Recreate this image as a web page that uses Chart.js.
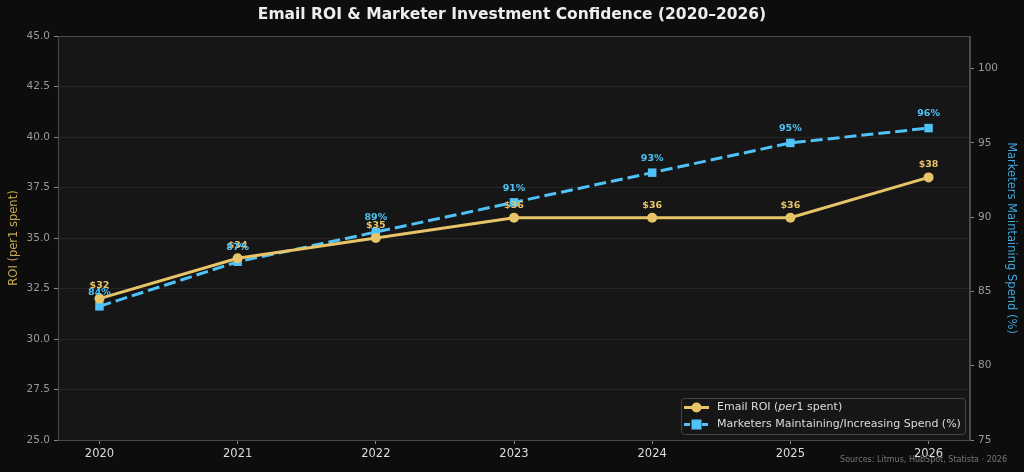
<!DOCTYPE html>
<html><head><meta charset="utf-8">
<script src="https://cdn.jsdelivr.net/npm/chart.js@4"></script>
<style>html,body{margin:0;padding:0;background:#0d0d0d;}#wrap{width:1024px;height:472px;position:relative;}</style>
</head><body><div id="wrap"><canvas id="c" width="1024" height="472"></canvas></div>
<script>
const years = [2020, 2021, 2022, 2023, 2024, 2025, 2026];
const roiValues = [32, 34, 35, 36, 36, 36, 38];
const spendValues = [84, 87, 89, 91, 93, 95, 96];
const roiTicks = [25, 27.5, 30, 32.5, 35, 37.5, 40, 42.5, 45];
const spendTicks = [75, 80, 85, 90, 95, 100];

const GOLD = '#e8c468', BLUE = '#4fc3f7';
const FONT = "'DejaVu Sans', sans-serif";

const bgPlugin = {
  id: 'bg',
  beforeDraw(chart) {
    const {ctx, chartArea: a} = chart;
    ctx.save();
    ctx.fillStyle = '#0d0d0d';
    ctx.fillRect(0, 0, chart.width, chart.height);
    ctx.fillStyle = '#161616';
    ctx.fillRect(a.left, a.top, a.right - a.left, a.bottom - a.top);
    ctx.restore();
  },
  afterDraw(chart) {
    const {ctx, chartArea: a} = chart;
    ctx.save();
    ctx.strokeStyle = '#4a4a4a';
    ctx.lineWidth = 1;
    ctx.strokeRect(a.left + 0.5, a.top + 0.5, a.right - a.left - 1, a.bottom - a.top);
    // title
    ctx.fillStyle = '#eeeeee';
    ctx.font = "bold 15.5px " + FONT;
    ctx.textAlign = 'center';
    ctx.textBaseline = 'middle';
    ctx.fillText('Email ROI & Marketer Investment Confidence (2020\u20132026)', 512, 15);
    // sources
    ctx.fillStyle = '#777777';
    ctx.font = "8px " + FONT;
    ctx.textAlign = 'right';
    ctx.fillText('Sources: Litmus, HubSpot, Statista \u00b7 2026', 1007, 460);
    // legend
    const lx = 681, ly = 398, lw = 284, lh = 36;
    ctx.fillStyle = 'rgba(22,22,22,0.9)';
    ctx.strokeStyle = '#444';
    roundRect(ctx, lx + 0.5, ly + 0.5, lw, lh, 3);
    ctx.fill(); ctx.stroke();
    const items = [
      {label: ['Email ROI (', 'per', '1 spent)'], color: GOLD, dash: [], pt: 'circle'},
      {label: ['Marketers Maintaining/Increasing Spend (%)'], color: BLUE, dash: [6, 3], pt: 'square'}
    ];
    items.forEach((it, i) => {
      const y = ly + 9.5 + i * 17;
      ctx.strokeStyle = it.color; ctx.lineWidth = 3; ctx.setLineDash(it.dash);
      ctx.beginPath(); ctx.moveTo(lx + 3, y); ctx.lineTo(lx + 28, y); ctx.stroke();
      ctx.setLineDash([]);
      ctx.fillStyle = it.color;
      if (it.pt === 'circle') { ctx.beginPath(); ctx.arc(lx + 15.5, y, 5, 0, Math.PI * 2); ctx.fill(); }
      else ctx.fillRect(lx + 10.5, y - 5, 10, 10);
      ctx.fillStyle = '#dddddd';
      ctx.textAlign = 'left';
      let x = lx + 36;
      it.label.forEach((part, j) => {
        ctx.font = (j === 1 ? 'italic ' : '') + '11px ' + FONT;
        ctx.fillText(part, x, y);
        x += ctx.measureText(part).width;
      });
    });
    ctx.restore();
  },
  afterDatasetsDraw(chart) {
    const {ctx} = chart;
    ctx.save();
    ctx.font = 'bold 9.5px ' + FONT;
    ctx.textAlign = 'center';
    ctx.textBaseline = 'bottom';
    const m0 = chart.getDatasetMeta(0), m1 = chart.getDatasetMeta(1);
    m0.data.forEach((p, i) => { ctx.fillStyle = GOLD; ctx.fillText('$' + roiValues[i], p.x, p.y - 8); });
    m1.data.forEach((p, i) => { ctx.fillStyle = BLUE; ctx.fillText(spendValues[i] + '%', p.x, p.y - 9.5); });
    ctx.restore();
  }
};
function roundRect(ctx, x, y, w, h, r) {
  ctx.beginPath();
  ctx.moveTo(x + r, y); ctx.lineTo(x + w - r, y); ctx.quadraticCurveTo(x + w, y, x + w, y + r);
  ctx.lineTo(x + w, y + h - r); ctx.quadraticCurveTo(x + w, y + h, x + w - r, y + h);
  ctx.lineTo(x + r, y + h); ctx.quadraticCurveTo(x, y + h, x, y + h - r);
  ctx.lineTo(x, y + r); ctx.quadraticCurveTo(x, y, x + r, y); ctx.closePath();
}

new Chart(document.getElementById('c'), {
  type: 'line',
  data: {
    datasets: [
      {label: 'Email ROI (per1 spent)', data: years.map((y, i) => ({x: y, y: roiValues[i]})),
       borderColor: GOLD, backgroundColor: GOLD, borderWidth: 3, pointRadius: 5, pointStyle: 'circle',
       pointBorderWidth: 0, yAxisID: 'y', tension: 0},
      {label: 'Marketers Maintaining/Increasing Spend (%)', data: years.map((y, i) => ({x: y, y: spendValues[i]})),
       borderColor: BLUE, backgroundColor: BLUE, borderWidth: 3, borderDash: [12, 5], pointRadius: 6,
       pointStyle: 'rect', pointBorderWidth: 0, yAxisID: 'y1', tension: 0}
    ]
  },
  options: {
    responsive: false, animation: false, devicePixelRatio: 1,
    layout: {padding: {top: 36, left: 0, right: 0, bottom: 0}},
    plugins: {legend: {display: false}, title: {display: false}, tooltip: {enabled: false}},
    scales: {
      x: {
        type: 'linear', min: 2019.7, max: 2026.3,
        afterBuildTicks: s => { s.ticks = years.map(v => ({value: v})); },
        afterFit: s => { s.height = 32; },
        ticks: {color: '#dddddd', font: {family: FONT, size: 11.5}, padding: 3, callback: v => String(v)},
        grid: {drawOnChartArea: false, tickLength: 4, tickColor: '#888'},
        border: {color: '#4a4a4a'}
      },
      y: {
        position: 'left', min: 25, max: 45,
        afterBuildTicks: s => { s.ticks = roiTicks.map(v => ({value: v})); },
        afterFit: s => { s.width = 58; },
        ticks: {color: '#999999', font: {family: FONT, size: 10.5}, padding: 4, callback: v => v.toFixed(1)},
        grid: {color: '#262626', tickLength: 4, tickColor: '#888'},
        border: {color: '#4a4a4a'},
        title: {display: true, text: 'ROI (per1 spent)', color: '#c9a94f', font: {family: FONT, size: 11.5}, padding: {top: 7, bottom: 0}}
      },
      y1: {
        position: 'right', min: 75, max: 102.2,
        afterBuildTicks: s => { s.ticks = spendTicks.map(v => ({value: v})); },
        afterFit: s => { s.width = 54; },
        ticks: {color: '#999999', font: {family: FONT, size: 10.5}, padding: 4, callback: v => String(v)},
        grid: {drawOnChartArea: false, tickLength: 4, tickColor: '#888'},
        border: {color: '#4a4a4a'},
        title: {display: true, text: 'Marketers Maintaining Spend (%)', color: '#3fa9dc', font: {family: FONT, size: 11.5}, padding: {top: 6, bottom: 0}}
      }
    }
  },
  plugins: [bgPlugin]
});
</script></body></html>
